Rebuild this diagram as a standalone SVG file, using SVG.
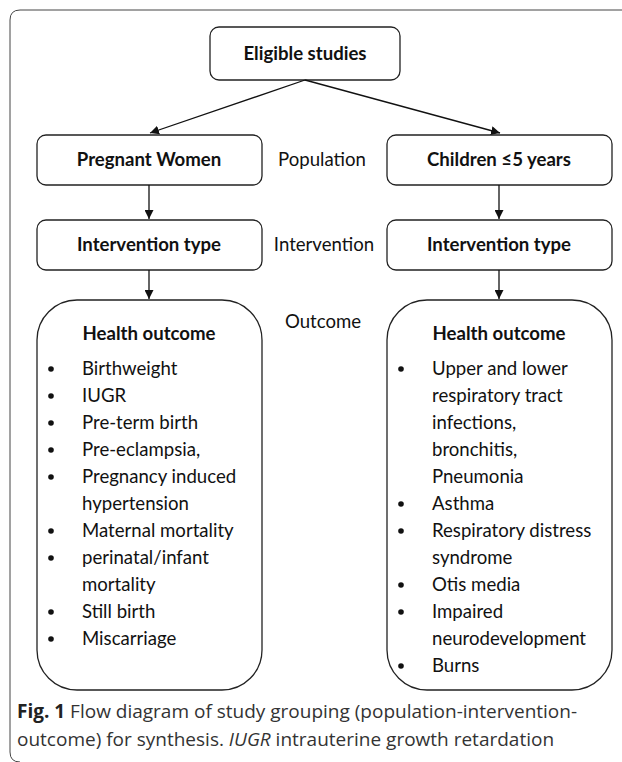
<svg xmlns="http://www.w3.org/2000/svg" width="622" height="762" viewBox="0 0 622 762">
<defs>
<marker id="ah" viewBox="0 0 10 10" refX="10" refY="5" markerWidth="9" markerHeight="9" markerUnits="userSpaceOnUse" orient="auto">
<path d="M0,0 L10,5 L0,10 z" fill="#111"/>
</marker>
<style>
.box{fill:#fff;stroke:#222;stroke-width:1.3}
.t{font-family:Lato,"Liberation Sans",sans-serif;font-size:18.6px;fill:#111}
.b{font-weight:bold;text-anchor:middle}
.c{font-family:"Open Sans","Liberation Sans",sans-serif;font-size:19px;fill:#333}
.conn line{stroke:#111;stroke-width:1.3;marker-end:url(#ah)}
</style>
</defs>
<rect width="622" height="762" fill="#fff"/>
<path d="M630,10 H20 Q10,10 10,20 V752 Q10,762 20,762" fill="none" stroke="#444" stroke-width="1"/>
<g id="eligible">
<rect class="box" x="210" y="27" width="190" height="53" rx="9"/>
<text class="t b" x="305" y="60">Eligible studies</text>
</g>
<g id="pregnant">
<rect class="box" x="37" y="135" width="225" height="50" rx="9"/>
<text class="t b" x="149" y="166">Pregnant Women</text>
</g>
<g id="children">
<rect class="box" x="387" y="135" width="225" height="50" rx="9"/>
<text class="t b" x="499" y="166">Children ≤5 years</text>
</g>
<g id="interv-left">
<rect class="box" x="37" y="220" width="225" height="50" rx="9"/>
<text class="t b" x="149" y="251">Intervention type</text>
</g>
<g id="interv-right">
<rect class="box" x="387" y="220" width="225" height="50" rx="9"/>
<text class="t b" x="499" y="251">Intervention type</text>
</g>
<g id="labels">
<text class="t" x="322" y="166" text-anchor="middle">Population</text>
<text class="t" x="324" y="251" text-anchor="middle">Intervention</text>
<text class="t" x="323" y="328" text-anchor="middle">Outcome</text>
</g>
<g id="outcome-left">
<rect class="box" x="37" y="300" width="225" height="390" rx="40"/>
<text class="t b" x="149" y="340">Health outcome</text>
<g class="t">
<text x="82" y="375">Birthweight</text>
<text x="82" y="402">IUGR</text>
<text x="82" y="429">Pre-term birth</text>
<text x="82" y="456">Pre-eclampsia,</text>
<text x="82" y="483">Pregnancy induced</text>
<text x="82" y="510">hypertension</text>
<text x="82" y="537">Maternal mortality</text>
<text x="82" y="564">perinatal/infant</text>
<text x="82" y="591">mortality</text>
<text x="82" y="618">Still birth</text>
<text x="82" y="645">Miscarriage</text>
</g>
<g fill="#111">
<circle cx="51" cy="369" r="2.8"/><circle cx="51" cy="396" r="2.8"/><circle cx="51" cy="423" r="2.8"/><circle cx="51" cy="450" r="2.8"/><circle cx="51" cy="477" r="2.8"/><circle cx="51" cy="531" r="2.8"/><circle cx="51" cy="558" r="2.8"/><circle cx="51" cy="612" r="2.8"/><circle cx="51" cy="639" r="2.8"/>
</g>
</g>
<g id="outcome-right">
<rect class="box" x="387" y="300" width="225" height="390" rx="40"/>
<text class="t b" x="499" y="340">Health outcome</text>
<g class="t">
<text x="432" y="375">Upper and lower</text>
<text x="432" y="402">respiratory tract</text>
<text x="432" y="429">infections,</text>
<text x="432" y="456">bronchitis,</text>
<text x="432" y="483">Pneumonia</text>
<text x="432" y="510">Asthma</text>
<text x="432" y="537">Respiratory distress</text>
<text x="432" y="564">syndrome</text>
<text x="432" y="591">Otis media</text>
<text x="432" y="618">Impaired</text>
<text x="432" y="645">neurodevelopment</text>
<text x="432" y="672">Burns</text>
</g>
<g fill="#111">
<circle cx="401" cy="369" r="2.8"/><circle cx="401" cy="504" r="2.8"/><circle cx="401" cy="531" r="2.8"/><circle cx="401" cy="585" r="2.8"/><circle cx="401" cy="612" r="2.8"/><circle cx="401" cy="666" r="2.8"/>
</g>
</g>
<g id="connectors" class="conn">
<line x1="305" y1="80" x2="150" y2="133"/>
<line x1="305" y1="80" x2="500" y2="133"/>
<line x1="149" y1="185" x2="149" y2="219"/>
<line x1="499" y1="185" x2="499" y2="219"/>
<line x1="149" y1="270" x2="149" y2="299"/>
<line x1="499" y1="270" x2="499" y2="299"/>
</g>
<g id="caption" class="c">
<text x="17" y="718"><tspan font-weight="bold" fill="#222">Fig. 1</tspan> Flow diagram of study grouping (population-intervention-</text>
<text x="17" y="746">outcome) for synthesis. <tspan font-style="italic">IUGR</tspan> intrauterine growth retardation</text>
</g>
</svg>
